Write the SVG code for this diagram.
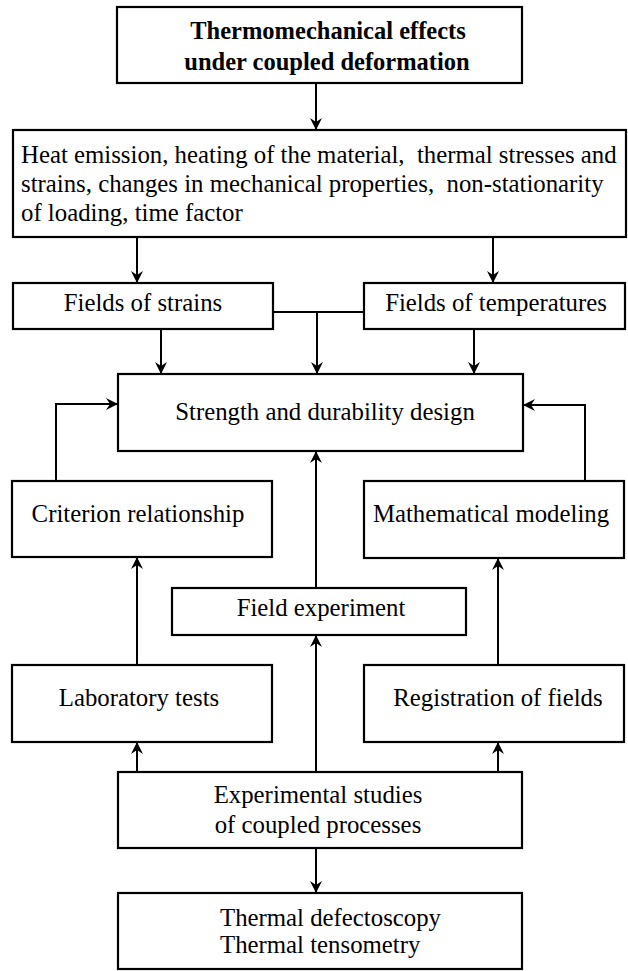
<svg xmlns="http://www.w3.org/2000/svg" width="628" height="971" viewBox="0 0 628 971">
<style>
.box{fill:#fff;stroke:#000;stroke-width:2.2}
.t{font-family:"Liberation Serif","Times New Roman",serif;font-size:24.8px;fill:#000;white-space:pre}
.b{font-weight:bold;font-size:24.5px}
.c{text-anchor:middle}
.ln{fill:none;stroke:#000;stroke-width:2}
</style>
<defs>
<marker id="ah" viewBox="0 0 12 12" refX="12" refY="6" markerWidth="12" markerHeight="12" markerUnits="userSpaceOnUse" orient="auto"><path d="M0,0 L12,6 L0,12 L4,6 z" fill="#000"/></marker>
</defs>
<g id="connectors">
<path class="ln" d="M316,83 V130" marker-end="url(#ah)"/>
<path class="ln" d="M137,237 V283" marker-end="url(#ah)"/>
<path class="ln" d="M493,237 V283" marker-end="url(#ah)"/>
<path class="ln" d="M161,329 V374" marker-end="url(#ah)"/>
<path class="ln" d="M474,329 V374" marker-end="url(#ah)"/>
<path class="ln" d="M273,312 H364"/>
<path class="ln" d="M317,312 V374" marker-end="url(#ah)"/>
<path class="ln" d="M56,481 V404 H118" marker-end="url(#ah)"/>
<path class="ln" d="M585,481 V405 H523" marker-end="url(#ah)"/>
<path class="ln" d="M316,588 V451" marker-end="url(#ah)"/>
<path class="ln" d="M137,665 V557" marker-end="url(#ah)"/>
<path class="ln" d="M498,665 V558" marker-end="url(#ah)"/>
<path class="ln" d="M316,772 V635" marker-end="url(#ah)"/>
<path class="ln" d="M137,772 V742" marker-end="url(#ah)"/>
<path class="ln" d="M498,772 V742" marker-end="url(#ah)"/>
<path class="ln" d="M316,848 V893" marker-end="url(#ah)"/>
</g>
<g id="n1">
<rect class="box" x="117" y="7" width="405" height="76"/>
<text class="t b c" x="328" y="39">Thermomechanical effects</text>
<text class="t b c" x="327" y="70">under coupled deformation</text>
</g>
<g id="n2">
<rect class="box" x="13" y="130" width="613" height="107"/>
<text class="t" x="21" y="163">Heat emission, heating of the material,  thermal stresses and</text>
<text class="t" x="21" y="192">strains, changes in mechanical properties,  non-stationarity</text>
<text class="t" x="21" y="221">of loading, time factor</text>
</g>
<g id="n3">
<rect class="box" x="13" y="283" width="260" height="46"/>
<text class="t c" x="143" y="311">Fields of strains</text>
</g>
<g id="n4">
<rect class="box" x="364" y="283" width="261" height="46"/>
<text class="t c" x="496" y="311">Fields of temperatures</text>
</g>
<g id="n5">
<rect class="box" x="118" y="374" width="405" height="77"/>
<text class="t c" x="325" y="420">Strength and durability design</text>
</g>
<g id="n6">
<rect class="box" x="12" y="481" width="260" height="76"/>
<text class="t c" x="138" y="522">Criterion relationship</text>
</g>
<g id="n7">
<rect class="box" x="364" y="481" width="260" height="77"/>
<text class="t c" x="491" y="522">Mathematical modeling</text>
</g>
<g id="n8">
<rect class="box" x="172" y="588" width="294" height="47"/>
<text class="t c" x="321" y="616">Field experiment</text>
</g>
<g id="n9">
<rect class="box" x="12" y="665" width="260" height="77"/>
<text class="t c" x="139" y="706">Laboratory tests</text>
</g>
<g id="n10">
<rect class="box" x="364" y="665" width="260" height="77"/>
<text class="t c" x="498" y="706">Registration of fields</text>
</g>
<g id="n11">
<rect class="box" x="118" y="772" width="404" height="76"/>
<text class="t c" x="318" y="803">Experimental studies</text>
<text class="t c" x="318" y="833">of coupled processes</text>
</g>
<g id="n12">
<rect class="box" x="118" y="893" width="404" height="76"/>
<text class="t" x="220" y="926">Thermal defectoscopy</text>
<text class="t" x="220" y="953">Thermal tensometry</text>
</g>
</svg>
